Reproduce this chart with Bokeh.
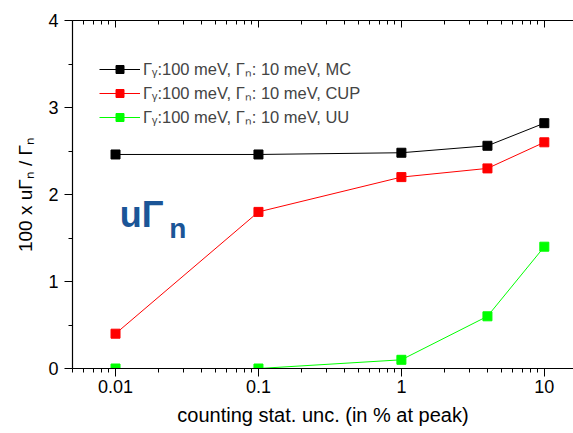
from bokeh.plotting import figure
from bokeh.models import (FixedTicker, LogAxis, Legend, LegendItem, Label, Range1d)
from bokeh.embed import file_html
from bokeh.resources import INLINE

# ---- data ----
x_vals = [0.01, 0.1, 1, 4, 10]
mc = [2.46, 2.46, 2.48, 2.56, 2.82]
cup = [0.40, 1.80, 2.20, 2.30, 2.60]
uu = [0.00, 0.00, 0.10, 0.60, 1.40]
series_names = ["Γᵧ:100 meV, Γₙ: 10 meV, MC",
                "Γᵧ:100 meV, Γₙ: 10 meV, CUP",
                "Γᵧ:100 meV, Γₙ: 10 meV, UU"]
series_colors = ["#000000", "#ff0000", "#00ff00"]

x_ticks = [0.01, 0.1, 1, 10]
x_tick_labels = ["0.01", "0.1", "1", "10"]
y_ticks = [0, 1, 2, 3, 4]
y_minor = [0.5, 1.5, 2.5, 3.5]
x_label = "counting stat. unc. (in % at peak)"
y_label = "100 x uΓₙ / Γₙ"

FONT = "Liberation Sans"

x_minor = [m * d for d in [0.001, 0.01, 0.1, 1] for m in range(2, 10)]

p = figure(width=573, height=433, x_axis_type="log",
           x_range=Range1d(0.005, 16), y_range=Range1d(0, 4),
           output_backend="svg", toolbar_location=None,
           min_border_left=72, min_border_right=0, min_border_top=20,
           min_border_bottom=65)
p.grid.visible = False
p.outline_line_color = None
p.background_fill_color = "white"
p.border_fill_color = "white"

xt = FixedTicker(ticks=x_ticks, minor_ticks=x_minor)
yt = FixedTicker(ticks=y_ticks, minor_ticks=y_minor)

xa = p.xaxis[0]
xa.ticker = xt
xa.major_label_overrides = {t: l for t, l in zip(x_ticks, x_tick_labels)}
xa.axis_label = x_label
ya = p.yaxis[0]
ya.ticker = yt
ya.axis_label = y_label

for ax in (xa, ya):
    ax.axis_line_color = "black"
    ax.axis_line_width = 1.2
    ax.major_tick_line_color = "black"
    ax.minor_tick_line_color = "black"
    ax.major_tick_in = 0
    ax.major_tick_out = 8
    ax.minor_tick_in = 0
    ax.minor_tick_out = 4
    ax.major_label_text_font = FONT
    ax.major_label_text_font_size = "18px"
    ax.major_label_text_color = "black"
    ax.axis_label_text_font = FONT
    ax.axis_label_text_font_size = "20px"
    ax.axis_label_text_font_style = "normal"
    ax.axis_label_text_color = "black"

ya.axis_label_text_font_size = "19px"
xa.major_label_standoff = 3
xa.axis_label_standoff = 8
ya.major_label_standoff = 6
ya.axis_label_standoff = 9

top = LogAxis(ticker=xt, major_label_overrides={t: "" for t in x_ticks},
              major_tick_in=7, major_tick_out=0, minor_tick_in=4,
              minor_tick_out=0, axis_line_width=1.2,
              major_label_standoff=0)
p.add_layout(top, "above")

items = []
for name, ys, col in zip(series_names, [mc, cup, uu], series_colors):
    r1 = p.line(x_vals, ys, line_color=col, line_width=1)
    r2 = p.scatter(x_vals, ys, marker="square", size=9,
                   fill_color=col, line_color=col)
    items.append(LegendItem(label=name, renderers=[r1, r2]))

leg = Legend(items=items, location=(27, 240), border_line_color=None,
             background_fill_alpha=0, padding=0, margin=0, spacing=1,
             glyph_width=41, glyph_height=20, label_height=20,
             label_standoff=3, label_text_font=FONT,
             label_text_font_size="16.5px")
p.add_layout(leg)

p.add_layout(Label(x=0.0107, y=1.77, text="uΓ", text_font=FONT,
                   text_font_size="36px", text_font_style="bold",
                   text_color="#1b5597", text_baseline="alphabetic"))
p.add_layout(Label(x=0.0238, y=1.61, text="n", text_font=FONT,
                   text_font_size="28px", text_font_style="bold",
                   text_color="#1b5597", text_baseline="alphabetic"))

open("out.html", "w").write(file_html(p, INLINE))
